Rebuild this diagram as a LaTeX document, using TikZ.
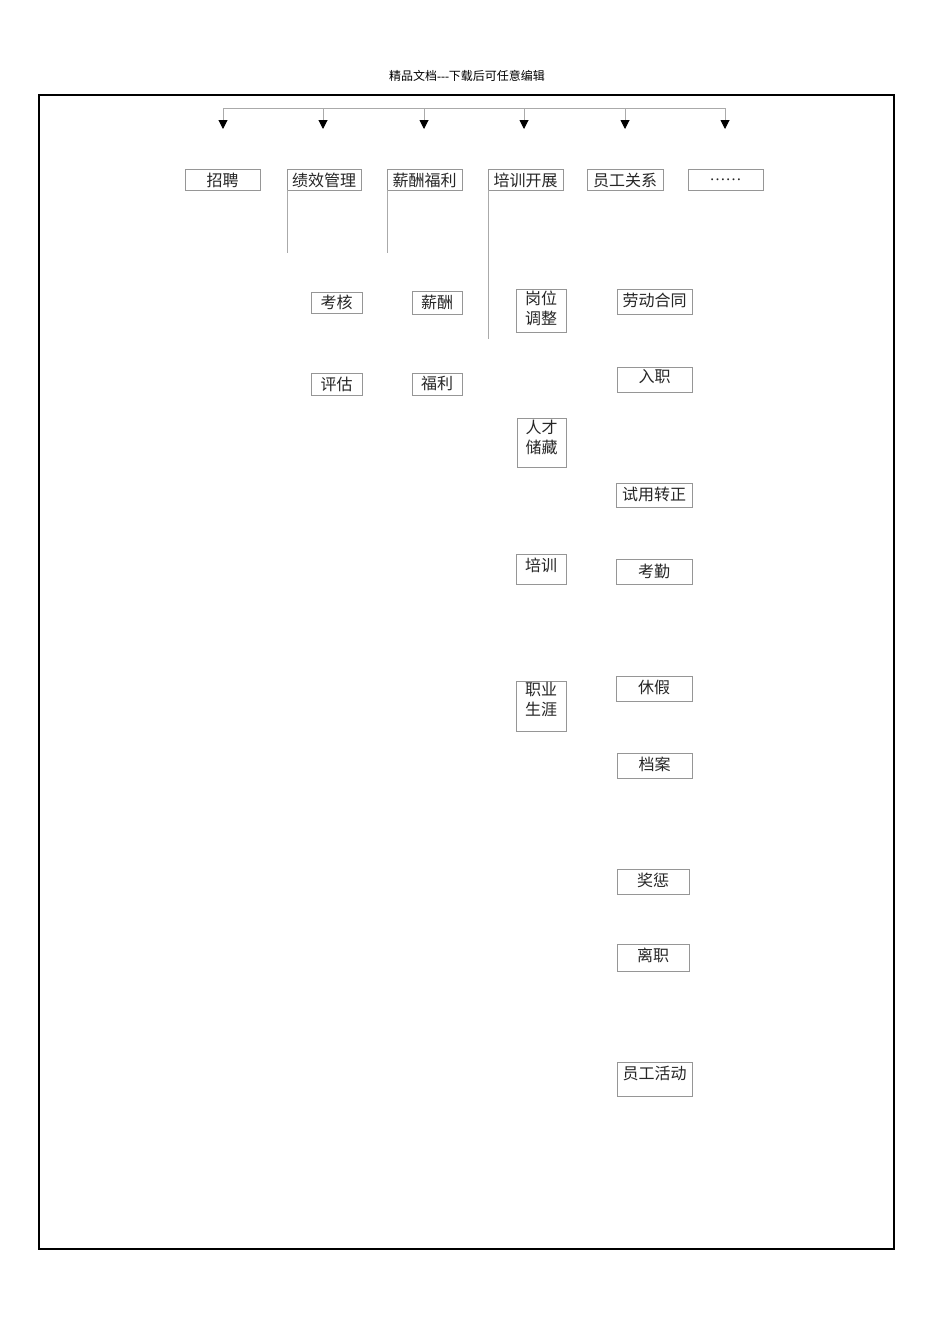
\documentclass[tikz,border=0pt]{standalone}
\usepackage{fontspec}
\setmainfont{Noto Sans CJK SC}
\newfontfamily\lat{Liberation Serif}
\usetikzlibrary{arrows.meta}
\definecolor{boxgray}{RGB}{150,150,150}
\definecolor{linegray}{RGB}{170,170,170}
\tikzset{
  hbox/.style={draw=boxgray, line width=1pt, rectangle, inner sep=0pt, outer sep=0pt},
  hlbl/.style={inner sep=0pt, align=center, font=\fontsize{16}{20}\selectfont, text=black!85},
  conn/.style={draw=linegray, line width=1pt},
  arr/.style={conn, -{Triangle[width=9pt,length=9pt,black]}},
  hdr/.style={inner sep=0pt, font=\fontsize{12}{14}\selectfont},
}
\newcommand\hrbox[7]{%
  \node[hbox, minimum width={#4-#2}, minimum height={#5-#3}] (#1) at ({(#2+#4)/2},{(#3+#5)/2}) {};
  \node[hlbl] (#1t) at ({(#2+#4)/2},#6) {#7};}
\begin{document}
\begin{tikzpicture}[x=1pt,y=-1pt]
\useasboundingbox (0,0) rectangle (950,1344);
\fill[white] (0,0) rectangle (950,1344);
% header
\node[hdr] (hdr) at (467,76) {精品文档{\lat -{}-{}-}下载后可任意编辑};
% frame
\draw[line width=2pt] (39,95) rectangle (894,1249);
% bus
\foreach \i/\x in {1/223,2/323,3/424,4/524,5/625,6/725}{
  \coordinate (b\i) at (\x,108);
  \coordinate (e\i) at (\x,129);
}
\draw[conn] (b1) -- (b6);
\foreach \i in {1,...,6}{ \draw[arr] (b\i) -- (e\i); }
% top row
\hrbox{zp}{185}{169}{260}{190}{180}{招聘}
\hrbox{jx}{287}{169}{361}{190}{180}{绩效管理}
\hrbox{xc}{387}{169}{462}{190}{180}{薪酬福利}
\hrbox{px}{488}{169}{563}{190}{180}{培训开展}
\hrbox{yg}{587}{169}{663}{190}{180}{员工关系}
\hrbox{dd}{688}{169}{763}{190}{180}{{\lat ……}}
% branch lines
\coordinate (jxe) at (287,253);
\coordinate (xce) at (387,253);
\coordinate (pxe) at (488,339);
\draw[conn] (jx.south west) -- (jxe);
\draw[conn] (xc.south west) -- (xce);
\draw[conn] (px.south west) -- (pxe);
% performance
\hrbox{kh}{311}{292}{362}{313}{302}{考核}
\hrbox{pg}{311}{373}{362}{395}{384}{评估}
% pay
\hrbox{xcz}{412}{291}{462}{314}{302}{薪酬}
\hrbox{fl}{412}{373}{462}{395}{383}{福利}
% training
\hrbox{gw}{516}{289}{566}{332}{308}{岗位\\调整}
\hrbox{rc}{517}{418}{566}{467}{437}{人才\\储藏}
\hrbox{pxz}{516}{554}{566}{584}{565}{培训}
\hrbox{zy}{516}{681}{566}{731}{700}{职业\\生涯}
% employee relations
\hrbox{ld}{617}{289}{692}{314}{300}{劳动合同}
\hrbox{rz}{617}{367}{692}{392}{377}{入职}
\hrbox{sy}{616}{483}{692}{507}{494}{试用转正}
\hrbox{kq}{616}{559}{692}{584}{571}{考勤}
\hrbox{xj}{616}{676}{692}{701}{687}{休假}
\hrbox{da}{617}{753}{692}{778}{764}{档案}
\hrbox{jc}{617}{869}{689}{894}{880}{奖惩}
\hrbox{lz}{617}{944}{689}{971}{955}{离职}
\hrbox{hd}{617}{1062}{692}{1096}{1073}{员工活动}
\end{tikzpicture}
\end{document}
